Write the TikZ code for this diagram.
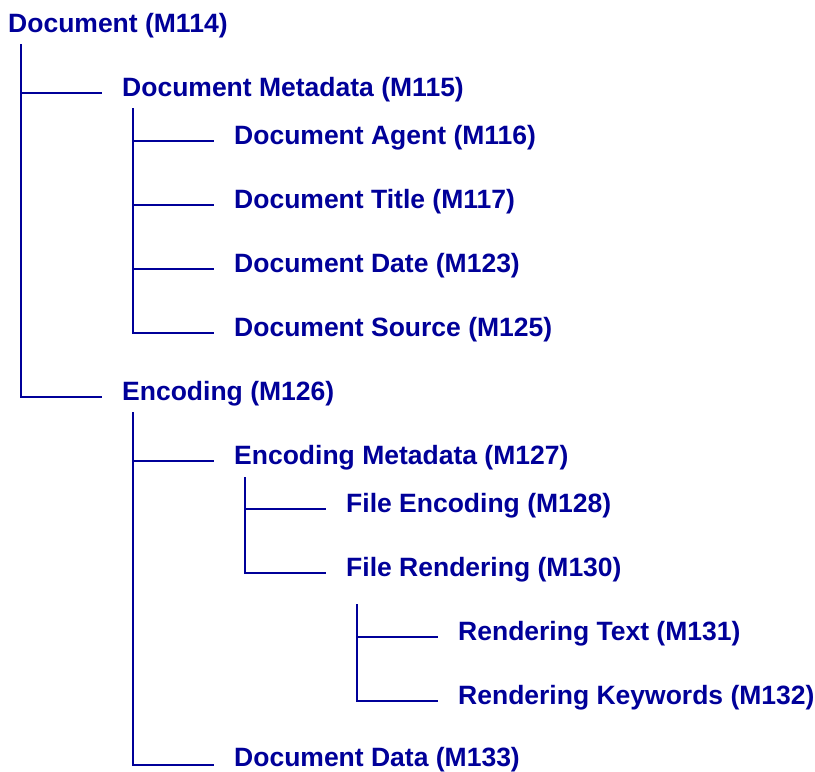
\documentclass[tikz,border=0pt]{standalone}
\usepackage{fontspec}
\setmainfont{Liberation Sans}
\definecolor{treeblue}{RGB}{0,0,153}
\begin{document}
\begin{tikzpicture}[x=1pt,y=-1pt,
  item/.style={anchor=base west, inner sep=0pt, text=treeblue,
    font=\fontsize{26.5}{30}\selectfont\bfseries},
  branch/.style={draw=treeblue, line width=1.5pt}]
\useasboundingbox (0,0) rectangle (815,772);

% labels of the tree
\node[item] (m114) at (8,32)      {Document (M114)};
\node[item] (m115) at (122,96.5)  {Document Metadata (M115)};
\node[item] (m116) at (234,144.5) {Document Agent (M116)};
\node[item] (m117) at (234,208.5) {Document Title (M117)};
\node[item] (m123) at (234,272.5) {Document Date (M123)};
\node[item] (m125) at (234,336.5) {Document Source (M125)};
\node[item] (m126) at (122,400.5) {Encoding (M126)};
\node[item] (m127) at (234,464.5) {Encoding Metadata (M127)};
\node[item] (m128) at (346,512.5) {File Encoding (M128)};
\node[item] (m130) at (346,576.5) {File Rendering (M130)};
\node[item] (m131) at (458,640.5) {Rendering Text (M131)};
\node[item] (m132) at (458,704.5) {Rendering Keywords (M132)};
\node[item] (m133) at (234,766)   {Document Data (M133)};

% tops of the vertical stems under each parent
\coordinate (t114) at (21,44);
\coordinate (t115) at (133,108);
\coordinate (t126) at (133,412);
\coordinate (t127) at (245,477);
\coordinate (t130) at (357,604);

% elbow connectors: stem down, then across to the child label
\foreach \p/\c/\dy in {t114/m115/3.5, t114/m126/3.5,
                   t115/m116/3.5, t115/m117/3.5, t115/m123/3.5, t115/m125/3.5,
                   t126/m127/3.5, t126/m133/1,
                   t127/m128/3.5, t127/m130/3.5,
                   t130/m131/3.5, t130/m132/3.5}
  \draw[branch] (\p) |- ([xshift=-20pt,yshift=\dy pt]\c.base west);
\end{tikzpicture}
\end{document}
